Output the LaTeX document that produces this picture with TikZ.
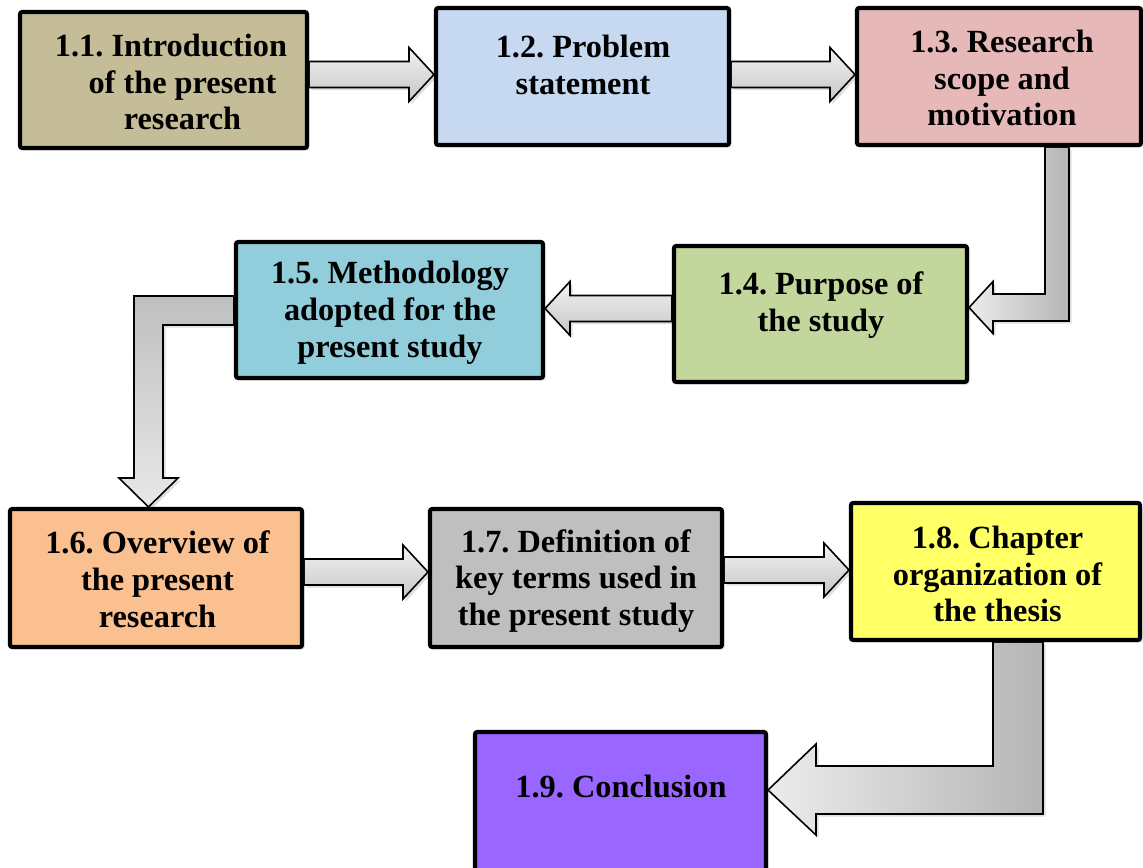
\documentclass[tikz,border=0pt]{standalone}
\usepackage{fontspec}
\setmainfont{Liberation Serif}
\frenchspacing
\usetikzlibrary{calc,fit,shadows}
\pgfdeclarelayer{background}
\pgfsetlayers{background,main}

\definecolor{cintro}{HTML}{C4BD97}
\definecolor{cproblem}{HTML}{C6D9F1}
\definecolor{cscope}{HTML}{E6B9B8}
\definecolor{cpurpose}{HTML}{C3D69B}
\definecolor{cmethod}{HTML}{92CDDC}
\definecolor{coverview}{HTML}{FAC090}
\definecolor{cterms}{HTML}{BFBFBF}
\definecolor{cchapter}{HTML}{FFFF66}
\definecolor{cconcl}{HTML}{9966FF}

\tikzset{
  box/.style={draw=black, line width=2.3pt, rounded corners=1.2pt, inner sep=0pt,
    drop shadow={shadow xshift=1.5pt, shadow yshift=-1.5pt, opacity=0.22}},
  lbl/.style={font=\fontsize{18.4}{21}\selectfont\bfseries, align=center, inner sep=0pt},
  arrowbase/.style={draw=black, line width=0.9pt, line join=miter,
    drop shadow={shadow xshift=1.5pt, shadow yshift=-1.5pt, opacity=0.25}},
  flat/.style={arrowbase, top color=gray!10, bottom color=gray!45},
  bentleft/.style={arrowbase, left color=gray!15, right color=gray!58},
  bentdown/.style={arrowbase, top color=gray!50, bottom color=gray!18},
}

% straight block arrow: source anchor, target anchor, centre y, signed head length
\newcommand\flowarrow[4]{%
  \coordinate (fa-y) at (0,#3);
  \coordinate (fa-s) at (#1 |- fa-y);
  \coordinate (fa-t) at (#2 |- fa-y);
  \path[flat] ($(fa-s)+(0,-13)$) -- ($(fa-t)+(#4,-13)$) -- ($(fa-t)+(#4,-27)$)
    -- (fa-t) -- ($(fa-t)+(#4,27)$) -- ($(fa-t)+(#4,13)$) -- ($(fa-s)+(0,13)$) -- cycle;}

\begin{document}
\begin{tikzpicture}[x=0.02cm, y=-0.02cm]
\useasboundingbox (0,0) rectangle (1143,867);

% boxes
\node[box, fill=cintro,    fit={(20,12) (307,148)}]   (b1) {};
\node[box, fill=cproblem,  fit={(436,8) (729,145)}]   (b2) {};
\node[box, fill=cscope,    fit={(857,8) (1141,145)}]  (b3) {};
\node[box, fill=cpurpose,  fit={(674,246) (967,382)}] (b4) {};
\node[box, fill=cmethod,   fit={(236,242) (543,378)}] (b5) {};
\node[box, fill=coverview, fit={(10,509) (302,647)}]  (b6) {};
\node[box, fill=cterms,    fit={(430,509) (722,647)}] (b7) {};
\node[box, fill=cchapter,  fit={(851,503) (1140,640)}] (b8) {};
\node[box, fill=cconcl,    fit={(475,732) (766,880)}] (b9) {};

% labels
\node[lbl] (t1) at (182.5,82) {1.1. Introduction\hspace*{0.46cm}\\of the present\\research};
\node[lbl] (t2) at (583,65) {1.2. Problem\\statement};
\node[lbl] (t3) at (1002,78) {1.3. Research\\scope and\\motivation};
\node[lbl] (t4) at (821,305) {1.4. Purpose of\\the study};
\node[lbl] (t5) at (390,313) {1.5. Methodology\\adopted for the\\present study};
\node[lbl] (t6) at (157.5,579) {1.6. Overview of\\the present\\research};
\node[lbl] (t7) at (576,581) {1.7. Definition of\\key terms used in\\the present study};
\node[lbl] (t8) at (997.5,574) {1.8. Chapter\\organization of\\the thesis};
\node[lbl] (t9) at (621,786) {1.9. Conclusion};

\begin{pgfonlayer}{background}
  \fill[white] (0,0) rectangle (1143,867);

  % straight arrows
  \flowarrow{b1.east}{b2.west}{74.5}{-25}
  \flowarrow{b2.east}{b3.west}{74.5}{-25}
  \flowarrow{b4.west}{b5.east}{308.5}{25}
  \flowarrow{b6.east}{b7.west}{572}{-25}
  \flowarrow{b7.east}{b8.west}{570}{-25}

  % 1.3 -> 1.4
  \coordinate (v1) at (1045,294);
  \coordinate (v2) at (1069,321);
  \coordinate (h34) at (993,307.5);
  \path[bentleft] (b3.south -| v1) -- (v1) -- (h34 |- v1) -- ($(h34)+(0,-26)$)
    -- (b4.east |- h34) -- ($(h34)+(0,26)$) -- (h34 |- v2) -- (v2)
    -- (b3.south -| v2) -- cycle;

  % 1.5 -> 1.6
  \coordinate (w1) at (134,296);
  \coordinate (w2) at (163,325);
  \coordinate (h56) at (148.5,478);
  \path[bentdown] (b5.west |- w1) -- (w1) -- (w1 |- h56) -- ($(h56)+(-29.5,0)$)
    -- (h56 |- b6.north) -- ($(h56)+(29.5,0)$) -- (w2 |- h56) -- (w2)
    -- (b5.west |- w2) -- cycle;

  % 1.8 -> 1.9
  \coordinate (u1) at (993,766);
  \coordinate (u2) at (1043,814);
  \coordinate (h89) at (816,790);
  \path[bentleft] (b8.south -| u1) -- (u1) -- (h89 |- u1) -- ($(h89)+(0,-46)$)
    -- (b9.east |- h89) -- ($(h89)+(0,45)$) -- (h89 |- u2) -- (u2)
    -- (b8.south -| u2) -- cycle;
\end{pgfonlayer}
\end{tikzpicture}
\end{document}
